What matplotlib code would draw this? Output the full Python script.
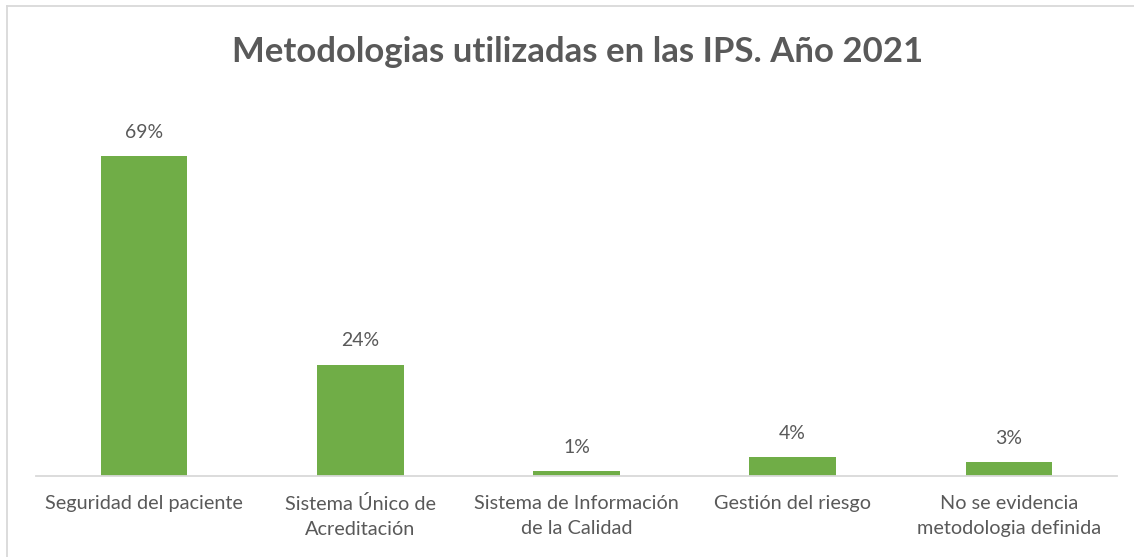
import matplotlib

matplotlib.use("Agg")
import matplotlib.pyplot as plt
from matplotlib.lines import Line2D

plt.rcParams["font.family"] = ["Lato", "DejaVu Sans"]

# --------------------------------------------------------------------------- #
# Data
# --------------------------------------------------------------------------- #
categories = [
    "Seguridad del paciente",
    "Sistema Único de\nAcreditación",
    "Sistema de Información\nde la Calidad",
    "Gestión del riesgo",
    "No se evidencia\nmetodologia definida",
]
values = [69, 24, 1, 4, 3]
title = "Metodologias utilizadas en las IPS. Año 2021"

GREEN = "#70AD47"
TEXT = "#595959"

fig = plt.figure(figsize=(11.34, 5.57), dpi=100)
ax = fig.add_axes([0.0317, 0.1454, 0.9533, 0.6661])

x = range(len(categories))
ax.bar(x, values, width=0.4, color=GREEN, zorder=2)
for xi, v in zip(x, values):
    ax.text(xi, v + 3.3, f"{v}%", ha="center", va="bottom", fontsize=14, color=TEXT)

ax.set_xlim(-0.5, len(categories) - 0.5)
ax.set_ylim(0, 80)
ax.set_xticks(list(x), categories, fontsize=14.3, color=TEXT, linespacing=1.55)
ax.tick_params(axis="x", length=0, pad=14)
ax.set_yticks([])
for s in ["left", "right", "top"]:
    ax.spines[s].set_visible(False)
ax.spines["bottom"].set_color("#D9D9D9")
ax.spines["bottom"].set_linewidth(1.3)

fig.text(0.509, 0.907, title, ha="center", va="center", fontsize=25,
         fontweight="bold", color=TEXT)

# chart-area border (only left/top edges visible in the reference)
fig.add_artist(Line2D([0.0066, 0.0066], [0, 0.989], transform=fig.transFigure,
                      color="#D9D9D9", lw=1.3))
fig.add_artist(Line2D([0.0066, 1], [0.989, 0.989], transform=fig.transFigure,
                      color="#D9D9D9", lw=1.3))

fig.savefig("out.png", dpi=100)
